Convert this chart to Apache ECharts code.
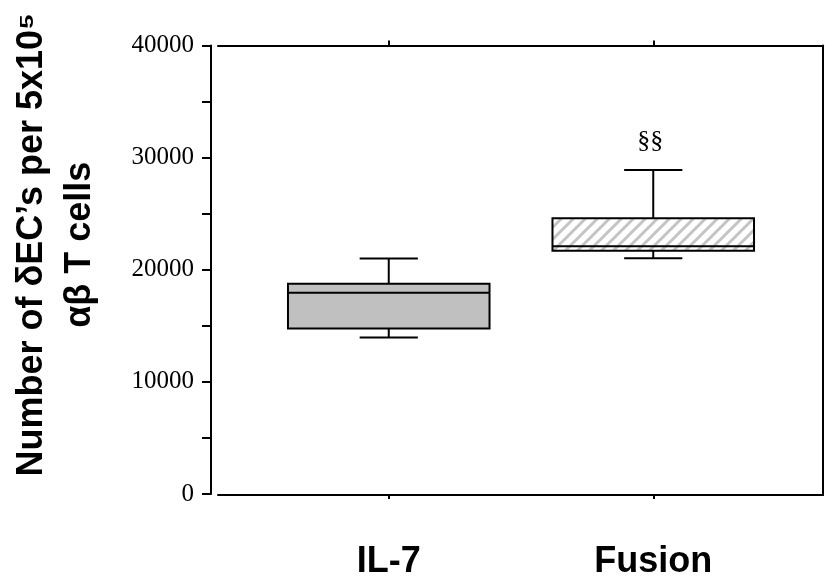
<!DOCTYPE html>
<html>
<head>
<meta charset="utf-8">
<script src="https://cdn.jsdelivr.net/npm/echarts@6/dist/echarts.min.js"></script>
<style>
html,body{margin:0;padding:0;background:#fff;}
#chart{width:825px;height:580px;}
</style>
</head>
<body>
<div id="chart"></div>
<script>
// ---- data ----
const categories = ['IL-7', 'Fusion'];
// [low whisker, Q1, median, Q3, high whisker]
const lowWhisker = [13950, 21030];
const q1Values   = [14770, 21690];
const medians    = [17950, 22100];
const q3Values   = [18750, 24590];
const highWhisker= [21000, 28900];
const annotations = ['', '§§'];
const yTicks = [0, 10000, 20000, 30000, 40000];

// hatch pattern
function makeHatch() {
  const s = 12;
  const c = document.createElement('canvas');
  c.width = s; c.height = s;
  const ctx = c.getContext('2d');
  ctx.fillStyle = '#ffffff';
  ctx.fillRect(0, 0, s, s);
  ctx.strokeStyle = '#c4c4c4';
  ctx.lineWidth = 3;
  ctx.beginPath();
  ctx.moveTo(-2, s + 2); ctx.lineTo(s + 2, -2);
  ctx.moveTo(-2, 2); ctx.lineTo(2, -2);
  ctx.moveTo(s - 2, s + 2); ctx.lineTo(s + 2, s - 2);
  ctx.stroke();
  return c;
}
const fills = ['#c0c0c0', { image: makeHatch(), repeat: 'repeat' }];

const seriesData = categories.map((c, i) => [i, lowWhisker[i], q1Values[i], medians[i], q3Values[i], highWhisker[i]]);

const chart = echarts.init(document.getElementById('chart'), null, { renderer: 'canvas' });

const serif = '"Liberation Serif", "Times New Roman", serif';
const sans = '"Liberation Sans", Arial, sans-serif';
const frameLine = { show: true, onZero: false, lineStyle: { color: '#000', width: 2 } };

chart.setOption({
  animation: false,
  backgroundColor: '#ffffff',
  grid: [
    { left: 255.5, right: 39.5, top: 45.5, bottom: 85 },
    { left: 218, right: 2, top: 45.5, bottom: 85 }
  ],
  xAxis: [
    {
      type: 'category', gridIndex: 0, data: categories, position: 'bottom',
      axisLine: { show: false, onZero: false },
      axisTick: { show: true, alignWithLabel: true, length: 5, lineStyle: { color: '#000', width: 2 } },
      axisLabel: { margin: 50, fontFamily: sans, fontWeight: 'bold', fontSize: 36, color: '#000' },
      splitLine: { show: false }
    },
    {
      type: 'category', gridIndex: 0, data: categories, position: 'top',
      axisLine: { show: false, onZero: false },
      axisTick: { show: true, alignWithLabel: true, length: 5, lineStyle: { color: '#000', width: 2 } },
      axisLabel: { show: false },
      splitLine: { show: false }
    },
    {
      type: 'value', gridIndex: 1, position: 'bottom', min: 0, max: 1,
      axisLine: frameLine,
      axisTick: { show: false }, axisLabel: { show: false }, splitLine: { show: false }
    },
    {
      type: 'value', gridIndex: 1, position: 'top', min: 0, max: 1,
      axisLine: frameLine,
      axisTick: { show: false }, axisLabel: { show: false }, splitLine: { show: false }
    }
  ],
  yAxis: [
    {
      type: 'value', gridIndex: 0, min: 0, max: 40000, interval: 5000,
      position: 'left', offset: 45.5,
      axisLine: { show: true, onZero: false, lineStyle: { color: '#000', width: 2 } },
      axisTick: { show: true, length: 9, lineStyle: { color: '#000', width: 2 } },
      axisLabel: {
        margin: 17, fontFamily: serif, fontSize: 25, color: '#000',
        formatter: v => (yTicks.indexOf(v) >= 0 ? String(v) : '')
      },
      splitLine: { show: false },
      name: 'Number of δEC’s per 5x10⁵\nαβ T cells',
      nameLocation: 'middle',
      nameGap: 107,
      nameTextStyle: {
        fontFamily: sans, fontWeight: 'bold', fontSize: 36, color: '#000',
        lineHeight: 48, align: 'center', padding: [0, 0, 0, 50]
      }
    },
    {
      type: 'value', gridIndex: 1, position: 'right', min: 0, max: 1,
      axisLine: frameLine,
      axisTick: { show: false }, axisLabel: { show: false }, splitLine: { show: false }
    }
  ],
  series: [
    {
      type: 'custom',
      xAxisIndex: 0, yAxisIndex: 0,
      data: seriesData,
      encode: { x: 0, y: [1, 2, 3, 4, 5] },
      renderItem: function (params, api) {
        const idx = api.value(0);
        const pLow = api.coord([idx, api.value(1)]);
        const pQ1 = api.coord([idx, api.value(2)]);
        const pMed = api.coord([idx, api.value(3)]);
        const pQ3 = api.coord([idx, api.value(4)]);
        const pHigh = api.coord([idx, api.value(5)]);
        const band = api.size([1, 0])[0];
        const bw = band * 0.762;
        const cw = band * 0.22;
        const x = pLow[0];
        const lineStyle = { stroke: '#000', lineWidth: 2 };
        const children = [
          { type: 'line', shape: { x1: x, y1: pQ3[1], x2: x, y2: pHigh[1] }, style: lineStyle },
          { type: 'line', shape: { x1: x - cw / 2, y1: pHigh[1], x2: x + cw / 2, y2: pHigh[1] }, style: lineStyle },
          { type: 'line', shape: { x1: x, y1: pQ1[1], x2: x, y2: pLow[1] }, style: lineStyle },
          { type: 'line', shape: { x1: x - cw / 2, y1: pLow[1], x2: x + cw / 2, y2: pLow[1] }, style: lineStyle },
          { type: 'rect', shape: { x: x - bw / 2, y: pQ3[1], width: bw, height: pQ1[1] - pQ3[1] },
            style: { fill: fills[params.dataIndex], stroke: '#000', lineWidth: 2 } },
          { type: 'line', shape: { x1: x - bw / 2, y1: pMed[1], x2: x + bw / 2, y2: pMed[1] }, style: lineStyle }
        ];
        const ann = annotations[params.dataIndex];
        if (ann) {
          children.push({
            type: 'text',
            style: {
              text: ann, x: x - 3, y: pHigh[1] - 29,
              align: 'center', verticalAlign: 'middle',
              font: '26px ' + serif, fill: '#000'
            }
          });
        }
        return { type: 'group', children: children };
      }
    }
  ]
});
</script>
</body>
</html>
